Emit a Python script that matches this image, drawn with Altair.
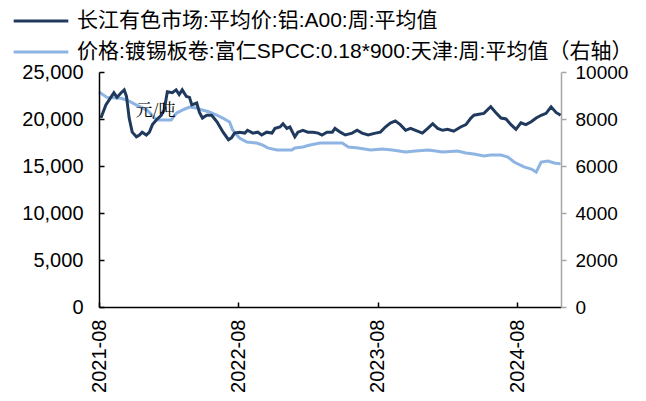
import altair as alt
import pandas as pd

NAME_A = "长江有色市场:平均价:铝:A00:周:平均值"
NAME_B = "价格:镀锡板卷:富仁SPCC:0.18*900:天津:周:平均值（右轴）"

dark_dates = [
    "2021-08-06", "2021-08-19", "2021-09-01", "2021-09-09", "2021-09-17", "2021-09-28",
    "2021-10-06", "2021-10-12", "2021-10-19", "2021-10-27", "2021-11-07", "2021-11-15",
    "2021-11-22", "2021-12-03", "2021-12-11", "2021-12-19", "2021-12-29", "2022-01-11",
    "2022-01-19", "2022-01-27", "2022-02-09", "2022-02-19", "2022-02-27", "2022-03-07",
    "2022-03-18", "2022-03-26", "2022-04-01", "2022-04-14", "2022-04-21", "2022-04-29",
    "2022-05-10", "2022-05-23", "2022-06-06", "2022-06-22", "2022-07-06", "2022-07-14",
    "2022-07-22", "2022-08-04", "2022-08-18", "2022-08-25", "2022-09-08", "2022-09-21",
    "2022-10-01", "2022-10-14", "2022-10-28", "2022-11-05", "2022-11-18", "2022-11-26",
    "2022-12-06", "2022-12-14", "2022-12-27", "2023-01-04", "2023-01-17", "2023-01-30",
    "2023-02-13", "2023-02-26", "2023-03-08", "2023-03-21", "2023-04-04", "2023-04-11",
    "2023-04-25", "2023-05-08", "2023-05-26", "2023-06-08", "2023-06-21", "2023-07-07",
    "2023-07-26", "2023-08-08", "2023-08-21", "2023-09-03", "2023-09-16", "2023-09-29",
    "2023-10-13", "2023-10-26", "2023-11-08", "2023-11-26", "2023-12-10", "2023-12-23",
    "2024-01-05", "2024-01-18", "2024-01-31", "2024-02-16", "2024-03-05", "2024-03-19",
    "2024-04-01", "2024-04-09", "2024-04-22", "2024-05-05", "2024-05-23", "2024-06-05",
    "2024-06-19", "2024-07-02", "2024-07-15", "2024-07-28", "2024-08-10", "2024-08-23",
    "2024-09-06", "2024-09-19", "2024-10-02", "2024-10-15", "2024-10-28", "2024-11-10",
    "2024-11-22",
]
dark_values = [
    20100, 21500, 22300, 22800, 22300, 22800,
    23100, 22400, 20100, 18600, 18100, 18300,
    18600, 18300, 18600, 19400, 19900, 20400,
    21000, 22900, 22800, 23100, 22600, 23100,
    22400, 22300, 21500, 21700, 20700, 20100,
    20400, 20400, 19700, 18600, 17800, 18000,
    18500, 18600, 18500, 18800, 18500, 18600,
    18300, 18600, 18500, 19000, 19150, 19500,
    19000, 19150, 18100, 18600, 18800, 18600,
    18600, 18500, 18300, 18600, 18600, 19000,
    18600, 18300, 18500, 18800, 18500, 18300,
    18500, 18600, 19150, 19570, 19800, 19400,
    18800, 19000, 18800, 18500, 19000, 19500,
    19000, 18800, 18900, 18700, 19150, 19400,
    20100, 20400, 20500, 20600, 21300, 20700,
    20100, 20000, 19400, 18900, 19600, 19400,
    19700, 20100, 20400, 20600, 21300, 20700,
    20400,
]

light_dates = [
    "2021-08-01", "2021-08-22", "2021-09-28", "2021-10-14", "2021-11-06", "2021-12-05",
    "2021-12-24", "2022-01-01", "2022-02-06", "2022-02-20", "2022-03-07", "2022-03-26",
    "2022-04-13", "2022-04-29", "2022-05-17", "2022-06-05", "2022-06-21", "2022-07-09",
    "2022-07-17", "2022-08-04", "2022-08-23", "2022-09-18", "2022-10-04", "2022-10-17",
    "2022-11-10", "2022-12-19", "2022-12-27", "2023-01-17", "2023-02-05", "2023-03-03",
    "2023-03-16", "2023-04-11", "2023-04-30", "2023-05-16", "2023-06-11", "2023-07-13",
    "2023-08-13", "2023-09-08", "2023-10-13", "2023-11-08", "2023-12-12", "2024-01-18",
    "2024-02-26", "2024-03-19", "2024-04-09", "2024-05-05", "2024-05-23", "2024-06-19",
    "2024-07-07", "2024-07-23", "2024-08-18", "2024-09-06", "2024-09-19", "2024-10-02",
    "2024-10-20", "2024-11-05", "2024-11-22",
]
light_values = [
    9150, 8920, 8880, 8800, 8600, 8380,
    8050, 7960, 7960, 8250, 8380, 8510,
    8470, 8380, 8300, 8170, 8040, 7870,
    7530, 7190, 7020, 6980, 6890, 6770,
    6680, 6680, 6770, 6810, 6890, 6980,
    6980, 6980, 6980, 6810, 6770, 6680,
    6720, 6680, 6600, 6640, 6680, 6600,
    6640, 6550, 6510, 6430, 6470, 6470,
    6380, 6170, 5960, 5870, 5740, 6170,
    6210, 6130, 6090,
]

left_ticks = [0, 5000, 10000, 15000, 20000, 25000]
right_ticks = [0, 2000, 4000, 6000, 8000, 10000]

DARK = "#203A5E"
LIGHT = "#8DB4E2"
FONT = "Liberation Sans, Arial, Noto Sans CJK SC"

df_a = pd.DataFrame({"date": dark_dates, "value": dark_values, "series": NAME_A})
df_b = pd.DataFrame({"date": light_dates, "value": light_values, "series": NAME_B})

color = alt.Color(
    "series:N",
    scale=alt.Scale(domain=[NAME_A, NAME_B], range=[DARK, LIGHT]),
    legend=alt.Legend(
        title=None, orient="none", legendX=-79, legendY=-72, direction="vertical",
        symbolType="M-1.4,0H1.4", symbolSize=1521, symbolStrokeWidth=3,
        symbolFillColor="transparent",
        labelFontSize=21, labelFont=FONT, labelLimit=0, labelColor="#000000",
        rowPadding=0, labelOffset=15, padding=0,
    ),
)

x_ticks = [alt.DateTime(year=y, month=8, date=1) for y in (2021, 2022, 2023, 2024)]
xenc = alt.X(
    "date:T",
    scale=alt.Scale(domain=[alt.DateTime(year=2021, month=8, date=1),
                            alt.DateTime(year=2024, month=11, date=23)]),
    axis=alt.Axis(
        values=x_ticks, format="%Y-%m", labelAngle=-90, title=None,
        tickSize={"expr": "-5"}, labelPadding=17, domainColor="#000000",
        tickColor="#000000", domainWidth=1.5, tickWidth=1.5,
        labelFontSize=20, labelFont=FONT, labelColor="#000000",
    ),
)

line_a = alt.Chart(df_a).mark_line(strokeWidth=3).encode(
    x=xenc,
    y=alt.Y(
        "value:Q",
        scale=alt.Scale(domain=[0, 25000]),
        axis=alt.Axis(
            orient="left", values=left_ticks, format=",.0f",
            tickSize={"expr": "-5"}, labelPadding=21,
            domainColor="#000000", tickColor="#000000", domainWidth=1.5, tickWidth=1.5,
            labelFontSize=20, labelFont=FONT, labelColor="#000000",
            title="元/吨", titleAngle=0, titleX=56, titleY=38, titleAlign="center",
            titleBaseline="middle", titleFontSize=17, titleFontWeight="normal",
            titleFont="Noto Serif CJK SC, Noto Sans CJK SC", titleColor="#000000",
            zindex=1,
        ),
    ),
    color=color,
)

line_b = alt.Chart(df_b).mark_line(strokeWidth=3).encode(
    x=xenc,
    y=alt.Y(
        "value:Q",
        scale=alt.Scale(domain=[0, 10000]),
        axis=alt.Axis(
            orient="right", values=right_ticks, format="d", title=None,
            tickSize=5, labelPadding=9,
            domainColor="#A6A6A6", tickColor="#A6A6A6", domainWidth=1.5, tickWidth=1.5,
            labelFontSize=19, labelFont=FONT, labelColor="#000000",
        ),
    ),
    color=color,
)

chart = (
    alt.layer(line_b, line_a)
    .resolve_scale(y="independent", color="shared")
    .properties(
        width=462, height=235,
        autosize=alt.AutoSizeParams(type="none"),
        padding={"left": 91, "top": 64, "right": 77, "bottom": 86},
    )
    .configure_view(stroke=None)
    .configure_axis(grid=False)
)

chart.save("out.html", embed_options={"renderer": "svg", "actions": False})
